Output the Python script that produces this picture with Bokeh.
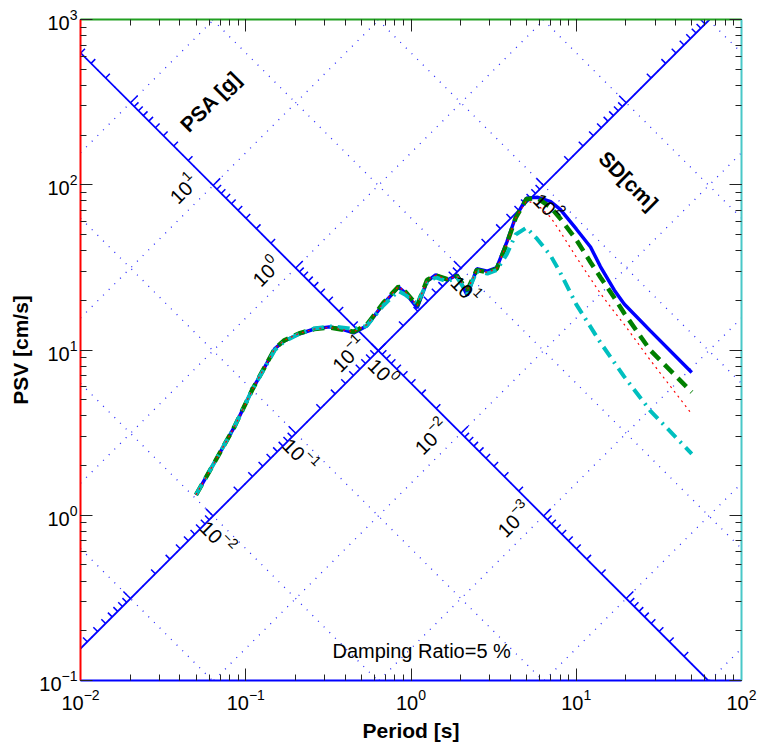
import numpy as np
from bokeh.plotting import figure
from bokeh.models import Range1d, LogAxis, LogTicker, CustomJSTickFormatter
from bokeh.core.properties import value
from bokeh.embed import file_html
from bokeh.resources import INLINE

# ---------------------------------------------------------------- data
G_CM = 981.0            # gravity, cm/s^2
TWO_PI = 2.0 * np.pi

period_s = [0.05, 0.064, 0.085, 0.11, 0.15, 0.17, 0.21, 0.26, 0.32, 0.38,
            0.45, 0.54, 0.68, 0.84, 0.93, 1.09, 1.25, 1.41, 1.66, 1.9,
            2.19, 2.5, 2.9, 3.3, 3.8, 4.3, 5.0, 5.8, 7.0, 8.0,
            10.0, 12.2, 14.0, 17.0, 19.5, 28.0, 50.0]

psv_blue = [1.33, 2.05, 3.4, 5.8, 10.2, 11.3, 12.5, 13.4, 13.8, 13.4,
            12.7, 14.0, 19.0, 24.0, 22.0, 18.0, 26.0, 28.5, 26.5, 28.5,
            21.4, 31.0, 30.0, 31.5, 45.0, 64.0, 83.0, 84.0, 79.0, 71.0,
            54.0, 42.0, 32.0, 23.0, 19.0, 13.1, 7.3]

psv_green = [1.33, 2.05, 3.4, 5.8, 10.2, 11.4, 12.6, 13.4, 13.7, 13.3,
             12.9, 14.2, 19.3, 24.2, 22.4, 18.6, 26.5, 28.3, 26.8, 28.0,
             23.0, 30.5, 29.5, 31.0, 44.0, 63.0, 82.0, 83.0, 73.0, 62.5,
             46.5, 34.0, 27.6, 20.7, 16.7, 10.0, 5.56]

psv_red = [1.33, 2.05, 3.4, 5.8, 10.2, 11.4, 12.6, 13.4, 13.7, 13.3,
           12.9, 14.2, 19.3, 24.2, 22.4, 18.6, 26.5, 28.3, 26.8, 28.0,
           23.0, 30.5, 29.5, 31.0, 44.0, 63.0, 80.0, 76.0, 63.5, 52.0,
           36.5, 27.0, 22.0, 17.0, 14.3, 8.7, 4.1]

psv_cyan = [1.33, 2.05, 3.4, 5.8, 10.0, 11.2, 12.5, 13.5, 13.9, 13.7,
            13.4, 14.0, 18.6, 22.8, 21.5, 19.0, 25.5, 27.5, 26.0, 27.5,
            22.0, 30.0, 29.0, 30.5, 38.0, 50.0, 55.0, 47.0, 37.2, 29.4,
            18.9, 13.8, 11.1, 8.4, 6.9, 4.3, 2.35]

damping_pct = 5

T_MIN, T_MAX = 0.01, 100.0
V_MIN, V_MAX = 0.1, 1000.0

grid_sd_cm = [10.0 ** k for k in range(-4, 6)]
grid_psa_g = [10.0 ** k for k in range(-6, 7)]
psa_scale_sd = 1.0       # PSA scale runs along SD = 1 cm
sd_scale_psa = 0.1       # SD scale runs along PSA = 0.1 g
psa_labelled = [-3, -2, -1, 0, 1]
sd_labelled = [-2, -1, 0, 1, 2]

FONT = "Liberation Sans"
PPD = 661.0 / 4.0        # screen pixels per decade on both axes


def sd_line(s):
    """PSV = 2*pi*SD/T clipped to the frame."""
    t0 = max(T_MIN, TWO_PI * s / V_MAX)
    t1 = min(T_MAX, TWO_PI * s / V_MIN)
    if t0 >= t1:
        return None
    ts = np.array([t0, t1])
    return ts, TWO_PI * s / ts


def psa_line(a):
    """PSV = PSA*g*T/(2*pi) clipped to the frame."""
    k = a * G_CM / TWO_PI
    t0 = max(T_MIN, V_MIN / k)
    t1 = min(T_MAX, V_MAX / k)
    if t0 >= t1:
        return None
    ts = np.array([t0, t1])
    return ts, k * ts


def crossing(s, a):
    t = TWO_PI * np.sqrt(s / (a * G_CM))
    return t, TWO_PI * s / t


def inside(t, v):
    return (T_MIN * 0.999 <= t <= T_MAX * 1.001) and (V_MIN * 0.999 <= v <= V_MAX * 1.001)


def shift(t, v, dx, dy):
    """Move a data point by (dx, dy) screen pixels (dy positive downwards)."""
    return t * 10.0 ** (dx / PPD), v * 10.0 ** (-dy / PPD)


# ---------------------------------------------------------------- figure
p = figure(width=762, height=745, x_axis_type="log", y_axis_type="log",
           x_range=Range1d(T_MIN, T_MAX), y_range=Range1d(V_MIN, V_MAX),
           output_backend="svg", toolbar_location=None,
           min_border_left=80, min_border_right=21,
           min_border_top=19, min_border_bottom=65)
p.outline_line_color = None
p.xgrid.visible = False
p.ygrid.visible = False
p.background_fill_color = "white"
p.border_fill_color = "white"


def style_axis(ax, line_color, show_labels=True):
    ax.ticker = LogTicker(num_minor_ticks=10)
    ax.major_tick_in = 12
    ax.major_tick_out = 0
    ax.minor_tick_in = 6
    ax.minor_tick_out = 0
    ax.major_tick_line_color = "#222222"
    ax.minor_tick_line_color = "#222222"
    ax.axis_line_color = line_color
    ax.axis_line_width = 2
    ax.major_label_text_font = FONT
    ax.major_label_text_color = "black"
    if show_labels:
        ax.major_label_text_font_size = "20px"
    else:
        ax.formatter = CustomJSTickFormatter(code="return '';")
        ax.major_label_text_font_size = "0px"
        ax.major_label_standoff = 0


style_axis(p.xaxis[0], "#0000ff")
style_axis(p.yaxis[0], "#ff0000")
p.xaxis.axis_label = "Period [s]"
p.yaxis.axis_label = "PSV [cm/s]"
for ax in (p.xaxis[0], p.yaxis[0]):
    ax.axis_label_text_font = FONT
    ax.axis_label_text_font_style = "bold"
    ax.axis_label_text_font_size = "21px"
    ax.axis_label_text_color = "black"
p.xaxis.major_label_standoff = 8
p.xaxis.axis_label_standoff = 6
p.yaxis.major_label_standoff = 3
p.yaxis.axis_label_standoff = 4

top = LogAxis()
style_axis(top, "#22a022", show_labels=False)
p.add_layout(top, "above")
right = LogAxis()
style_axis(right, "#48c8c8", show_labels=False)
p.add_layout(right, "right")

# ---------------------------------------------------------------- dotted tripartite grid
for s in grid_sd_cm:
    ln = sd_line(s)
    if ln is not None:
        p.line(ln[0], ln[1], line_color="#2a2aff", line_width=1.3, line_dash="1 7")
for a in grid_psa_g:
    ln = psa_line(a)
    if ln is not None:
        p.line(ln[0], ln[1], line_color="#2a2aff", line_width=1.3, line_dash="1 7")

# ---------------------------------------------------------------- PSA and SD scales
ln = sd_line(psa_scale_sd)
p.line(ln[0], ln[1], line_color="#0000ff", line_width=1.8)
ln = psa_line(sd_scale_psa)
p.line(ln[0], ln[1], line_color="#0000ff", line_width=1.8)

psa_ticks_t, psa_ticks_v, psa_ticks_len = [], [], []
sd_ticks_t, sd_ticks_v, sd_ticks_len = [], [], []
for k in range(-7, 7):
    for m in range(1, 10):
        val = m * 10.0 ** k
        t, v = crossing(psa_scale_sd, val)
        if inside(t, v):
            psa_ticks_t.append(t)
            psa_ticks_v.append(v)
            psa_ticks_len.append(10 if m == 1 else 6)
        t, v = crossing(val, sd_scale_psa)
        if inside(t, v):
            sd_ticks_t.append(t)
            sd_ticks_v.append(v)
            sd_ticks_len.append(10 if m == 1 else 6)

p.ray(x=psa_ticks_t, y=psa_ticks_v, length=psa_ticks_len, length_units="screen",
      angle=np.pi / 4, line_color="#0000ff", line_width=1.5)
p.ray(x=sd_ticks_t, y=sd_ticks_v, length=sd_ticks_len, length_units="screen",
      angle=3 * np.pi / 4, line_color="#0000ff", line_width=1.5)

# ---------------------------------------------------------------- response spectra
p.line(period_s, psv_blue, line_color="#0000ff", line_width=3.5)
p.line(period_s, psv_green, line_color="#008000", line_width=4.5, line_dash="12 7")
p.line(period_s, psv_cyan, line_color="#00bfbf", line_width=4, line_dash="12 6 2 6")
p.line(period_s, psv_red, line_color="#ff0000", line_width=1.2, line_dash="2 4")

# ---------------------------------------------------------------- scale labels (10 with raised exponent)
BASE_PX, EXP_PX = 20.0, 14.0


def exp_text(k):
    return str(k).replace("-", "\u2212")


def exp_width(k):
    txt = exp_text(k)
    return sum(0.584 if c == "\u2212" else 0.556 for c in txt) * EXP_PX


base_x, base_y, exp_x, exp_y, exp_str, base_ang, exp_ang = [], [], [], [], [], [], []


def add_power_label(t, v, k, angle, off):
    w_base = 2 * 0.556 * BASE_PX
    w_exp = exp_width(k)
    total = w_base + 0.5 + w_exp
    ux, uy = np.cos(angle), -np.sin(angle)
    vx, vy = -np.sin(angle), -np.cos(angle)
    sb = -total / 2 + w_base / 2
    se = -total / 2 + w_base + 0.5 + w_exp / 2
    bx = off[0] + sb * ux - 1.5 * vx
    by = off[1] + sb * uy - 1.5 * vy
    ex = off[0] + se * ux + 6.5 * vx
    ey = off[1] + se * uy + 6.5 * vy
    tb, vb = shift(t, v, bx, by)
    te, ve = shift(t, v, ex, ey)
    base_x.append(tb)
    base_y.append(vb)
    base_ang.append(angle)
    exp_x.append(te)
    exp_y.append(ve)
    exp_ang.append(angle)
    exp_str.append(exp_text(k))


for k in psa_labelled:
    t, v = crossing(psa_scale_sd, 10.0 ** k)
    add_power_label(t, v, k, np.pi / 4, (-30, 3))
for k in sd_labelled:
    t, v = crossing(10.0 ** k, sd_scale_psa)
    add_power_label(t, v, k, -np.pi / 4, (5, 21))

p.text(x=base_x, y=base_y, text=["10"] * len(base_x), angle=base_ang,
       text_align="center", text_baseline="middle", text_color="black",
       text_font=value(FONT), text_font_size=f"{BASE_PX:.0f}px")
p.text(x=exp_x, y=exp_y, text=exp_str, angle=exp_ang,
       text_align="center", text_baseline="middle", text_color="black",
       text_font=value(FONT), text_font_size=f"{EXP_PX:.0f}px")

# scale titles and damping note
p.text(x=[0.0612], y=[319.0], text=["PSA [g]"], angle=np.pi / 4,
       text_align="center", text_baseline="middle", text_color="black",
       text_font=value(FONT), text_font_style="bold", text_font_size="21px")
p.text(x=[20.7], y=[106.0], text=["SD[cm]"], angle=-np.pi / 4,
       text_align="center", text_baseline="middle", text_color="black",
       text_font=value(FONT), text_font_style="bold", text_font_size="21px")
p.text(x=[1.16], y=[0.15], text=[f"Damping Ratio={damping_pct} %"],
       text_align="center", text_baseline="middle", text_color="black",
       text_font=value(FONT), text_font_size="20px")

open("out.html", "w").write(file_html(p, INLINE))
